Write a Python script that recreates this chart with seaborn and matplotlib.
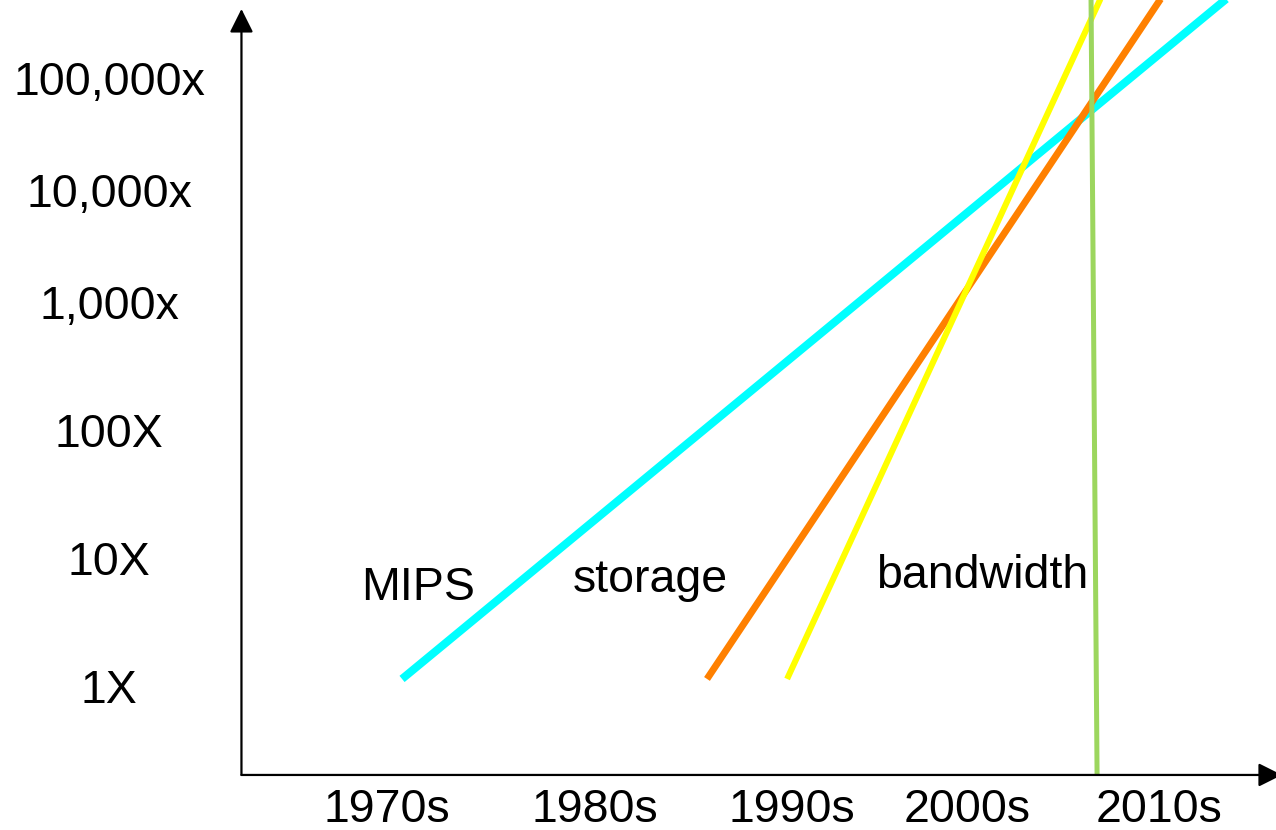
import matplotlib
matplotlib.use("Agg")
import matplotlib.pyplot as plt
import matplotlib.transforms as mtransforms
import pandas as pd
import seaborn as sns

# x is in years, y is a growth "level" (0 = 1X, 1 = 10X, ...)
decade_labels = ["1970s", "1980s", "1990s", "2000s", "2010s"]
decade_pos = [1970, 1980.78, 1990.98, 2000.05, 2010]

growth_labels = ["1X", "10X", "100X", "1,000x", "10,000x", "100,000x"]
growth_pos = [0, 1, 2, 3, 3.875, 4.75]

mips_year = [1970.78, 2014.55]
mips_level = [0.055, 5.5]
storage_year = [1986.58, 2010.67]
storage_level = [0.055, 5.5]
bandwidth_year = [1990.73, 2007.37]
bandwidth_level = [0.055, 5.5]
now_year = [2006.79, 2006.47]
now_level = [-0.703, 5.5]

series_names = ["MIPS", "storage", "bandwidth"]
name_year = [1971.61, 1983.63, 2000.85]
name_level = [0.672, 0.734, 0.766]

sns.set_theme(style="white")
plt.rcParams["font.family"] = ["Liberation Sans", "DejaVu Sans"]

fig = plt.figure(figsize=(12.76, 8.30), dpi=100)
ax = fig.add_axes([0, 0, 1, 1])

lines = [
    (mips_year, mips_level, "#00FFFF", 5.8),
    (storage_year, storage_level, "#FF8000", 5.0),
    (bandwidth_year, bandwidth_level, "#FFFF00", 4.4),
    (now_year, now_level, "#9CD65E", 3.6),
]
for yrs, lv, col, lw in lines:
    df = pd.DataFrame({"year": yrs, "level": lv})
    sns.lineplot(data=df, x="year", y="level", color=col, linewidth=lw,
                 sort=False, ax=ax, solid_capstyle="butt")

ax.set_xlim(1949.95, 2016.06)
ax.set_ylim(-1.125, 5.359)
ax.set_axis_off()

# axis lines with arrow heads
x_axis_level = -0.695
y_axis_year = 1962.46
arrow = dict(arrowstyle="-|>", color="black", lw=1.6, shrinkA=0, shrinkB=0,
             mutation_scale=36)
ax.annotate("", xy=(y_axis_year, 5.289), xytext=(y_axis_year, x_axis_level),
            arrowprops=arrow, annotation_clip=False)
ax.annotate("", xy=(2016.37, x_axis_level), xytext=(y_axis_year, x_axis_level),
            arrowprops=arrow, annotation_clip=False)

fs = 33.5
base = mtransforms.offset_copy(ax.transData, fig=fig, y=-17, units="dots")
for lab, pos in zip(growth_labels, growth_pos):
    ax.text(1955.6, pos, lab, transform=base, ha="center", va="baseline",
            fontsize=fs, color="black")
for lab, pos in zip(decade_labels, decade_pos):
    ax.text(pos, -1.0625, lab, ha="center", va="baseline",
            fontsize=fs, color="black")
for lab, yr, lv in zip(series_names, name_year, name_level):
    ax.text(yr, lv, lab, ha="center", va="baseline", fontsize=fs, color="black")

fig.savefig("out.png", dpi=100)
